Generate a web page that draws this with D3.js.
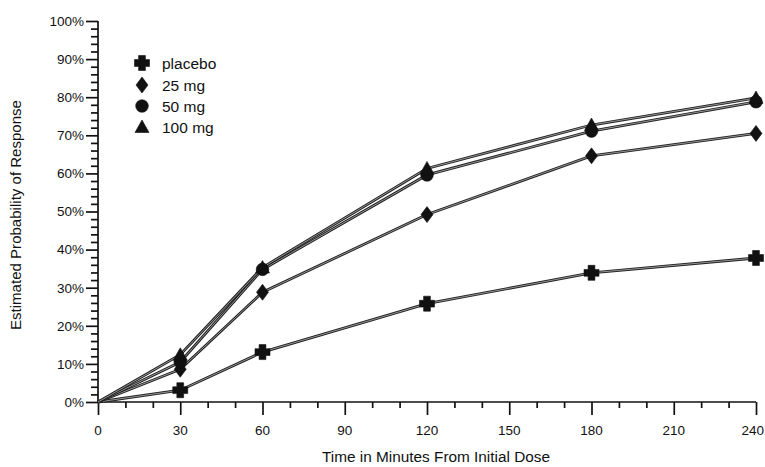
<!DOCTYPE html>
<html><head><meta charset="utf-8">
<script src="https://cdn.jsdelivr.net/npm/d3@7"></script>
<style>
body{margin:0;background:#fff;}
text{font-family:"Liberation Sans",Arial,sans-serif;fill:#111;}
</style></head>
<body>
<svg id="chart" width="765" height="467"></svg>
<script>
const times = [0, 30, 60, 120, 180, 240];
const seriesNames = ["placebo", "25 mg", "50 mg", "100 mg"];
const placebo = [0, 3.1, 13.1, 25.8, 33.9, 37.8];
const mg25 = [0, 8.6, 28.8, 49.2, 64.6, 70.5];
const mg50 = [0, 10.5, 34.8, 59.6, 71.1, 78.8];
const mg100 = [0, 12.4, 35.3, 61.3, 72.7, 79.8];
const xTicks = [0, 30, 60, 90, 120, 150, 180, 210, 240];
const yTicks = [0, 10, 20, 30, 40, 50, 60, 70, 80, 90, 100];
const symbolsList = ["plus", "diamond", "circle", "triangle"];

const values = [placebo, mg25, mg50, mg100];
const svg = d3.select("#chart");
const x = d3.scaleLinear().domain([0, 240]).range([98, 756]);
const y = d3.scaleLinear().domain([0, 100]).range([402, 21]);

// y axis
const yAxisG = svg.append("g").attr("transform", "translate(98,0)");
yAxisG.call(d3.axisLeft(y).tickValues(d3.range(0, 101, 2)).tickSize(7).tickFormat(""));
yAxisG.call(g => g.selectAll(".tick").filter(d => d % 10 === 0).select("line").attr("x2", -12));
yAxisG.selectAll(".tick text").remove();
yAxisG.select(".domain").attr("d", `M0,${y(100)}V${y(0)}`);
yAxisG.selectAll("line,path").attr("stroke", "#111").attr("stroke-width", 1.7);
yTicks.forEach(v => {
  yAxisG.append("text").attr("x", -14).attr("y", y(v)).attr("dy", "0.36em")
    .attr("text-anchor", "end").attr("font-size", 13.5).text(v + "%");
});

// x axis
const xAxisG = svg.append("g").attr("transform", "translate(0,402)");
xAxisG.call(d3.axisBottom(x).tickValues(d3.range(0, 241, 10)).tickSize(6).tickFormat(""));
xAxisG.call(g => g.selectAll(".tick").filter(d => d % 30 === 0).select("line").attr("y2", 13));
xAxisG.selectAll(".tick text").remove();
xAxisG.select(".domain").attr("d", `M${x(0)},0H${x(240)}`);
xAxisG.selectAll("line,path").attr("stroke", "#111").attr("stroke-width", 1.7);
xTicks.forEach(v => {
  const last = v === 240;
  xAxisG.append("text").attr("x", last ? 764 : x(v)).attr("y", 28).attr("dy", "0.36em")
    .attr("text-anchor", last ? "end" : "middle").attr("font-size", 13.5).text(v);
});

// axis titles
svg.append("text").attr("x", 436).attr("y", 462).attr("text-anchor", "middle")
  .attr("font-size", 15.5).attr("textLength", 228).attr("lengthAdjust", "spacingAndGlyphs")
  .text("Time in Minutes From Initial Dose");
svg.append("text").attr("transform", "translate(21,215) rotate(-90)")
  .attr("text-anchor", "middle").attr("font-size", 15.5).attr("textLength", 230)
  .attr("lengthAdjust", "spacingAndGlyphs").text("Estimated Probability of Response");

// lines
const line = d3.line().x((d, i) => x(times[i])).y(d => y(d));
values.forEach(vals => {
  svg.append("path").attr("d", line(vals)).attr("fill", "none")
    .attr("stroke", "#222").attr("stroke-width", 2.8);
  svg.append("path").attr("d", line(vals)).attr("fill", "none")
    .attr("stroke", "#b0b0b0").attr("stroke-width", 0.8);
});

function markerPath(type) {
  if (type === "plus") {
    const a = 7.5, w = 3.4;
    return `M${-w},${-a}H${w}V${-w}H${a}V${w}H${w}V${a}H${-w}V${w}H${-a}V${-w}H${-w}Z`;
  }
  if (type === "diamond") return "M0,-8L6,0L0,8L-6,0Z";
  if (type === "circle") {
    const p = d3.path(); p.arc(0, 0, 6.3, 0, 2 * Math.PI); return p.toString();
  }
  return "M0,-7L7,5.5H-7Z";
}
function marker(g, type, cx, cy) {
  g.append("path").attr("d", markerPath(type)).attr("transform", `translate(${cx},${cy})`)
    .attr("fill", "#111").attr("stroke", "#111").attr("stroke-width", 0.6);
}
values.forEach((vals, si) => {
  vals.forEach((v, i) => { if (i > 0) marker(svg, symbolsList[si], x(times[i]), y(v)); });
});

// legend
const legendY = [63, 85, 106, 127];
seriesNames.forEach((n, i) => {
  marker(svg, symbolsList[i], 142, legendY[i]);
  svg.append("text").attr("x", 162).attr("y", legendY[i]).attr("dy", "0.36em")
    .attr("font-size", 15.5).text(n);
});
</script>
</body></html>
